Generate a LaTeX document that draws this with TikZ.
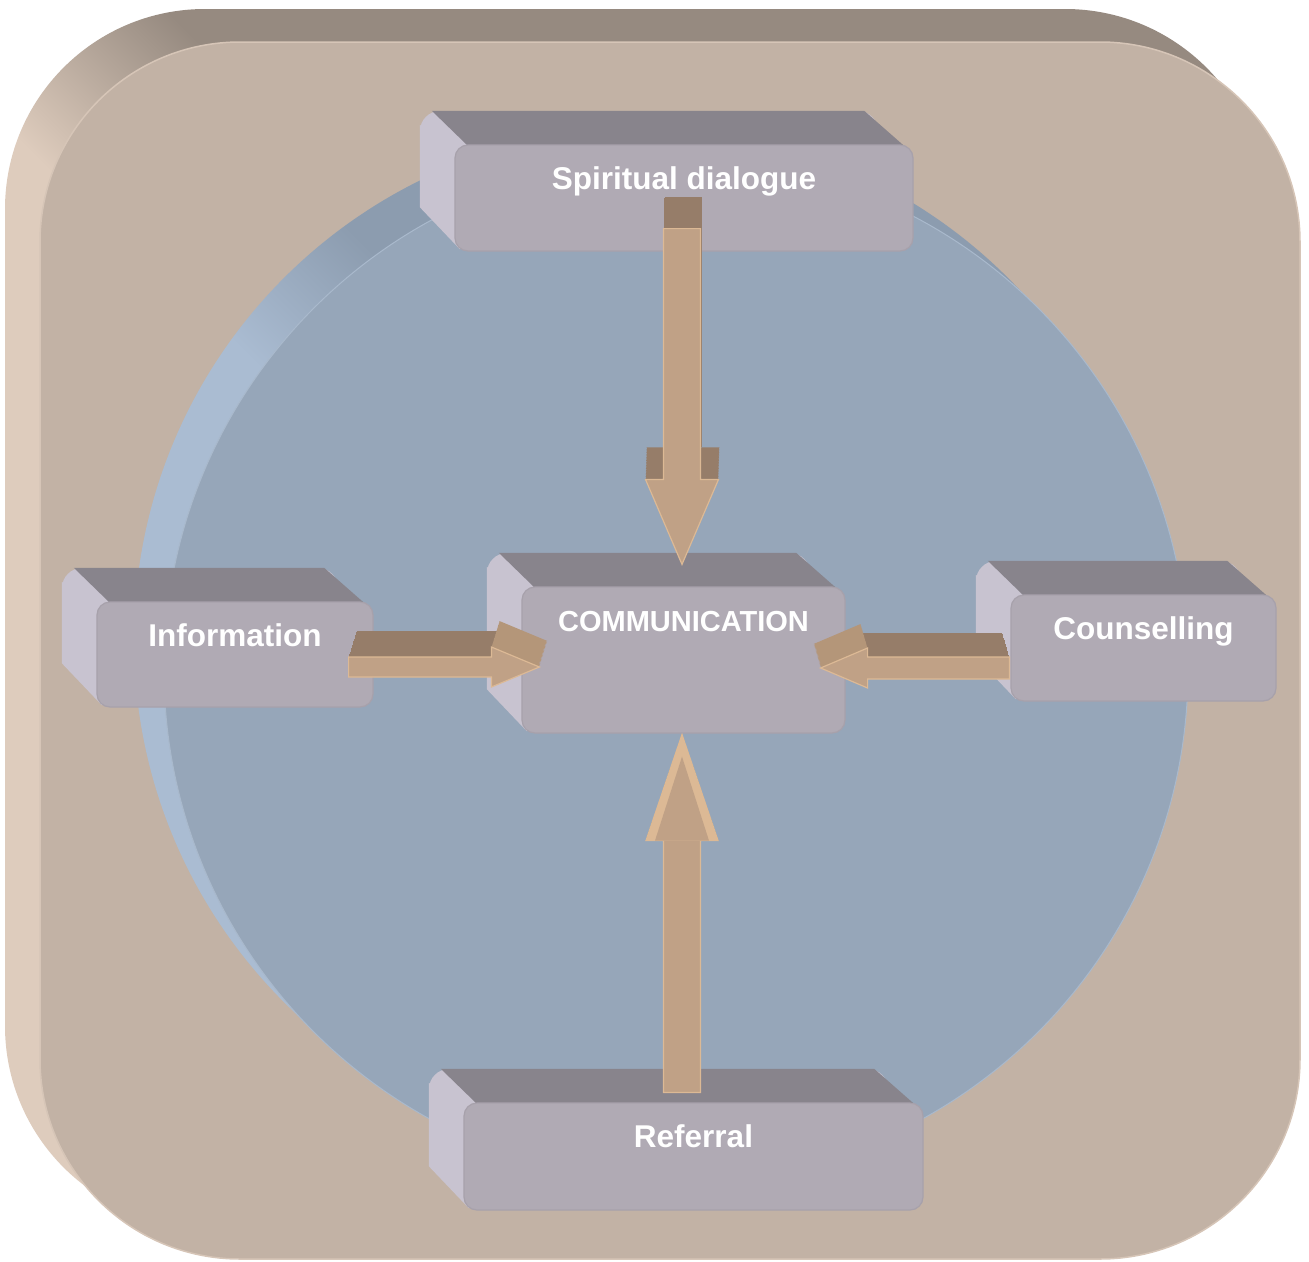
\documentclass[tikz,border=0pt]{standalone}
\usepackage{fontspec}
\setmainfont{Liberation Sans}
\usetikzlibrary{calc}

\definecolor{slabfront}{HTML}{C2B2A5}
\definecolor{slablight}{HTML}{DECCBD}
\definecolor{slabdark}{HTML}{968A80}
\definecolor{slabedge}{HTML}{D6C5B7}
\definecolor{diskfront}{HTML}{96A6B9}
\definecolor{disklight}{HTML}{AABCD2}
\definecolor{diskdark}{HTML}{8C9CAF}
\definecolor{diskedge}{HTML}{A9B9CC}
\definecolor{boxfront}{HTML}{B0AAB4}
\definecolor{boxtop}{HTML}{88848C}
\definecolor{boxside}{HTML}{C8C3D0}
\definecolor{boxedge}{HTML}{A7A1AB}
\definecolor{arrowfront}{HTML}{C0A186}
\definecolor{arrowdark}{HTML}{967D69}
\definecolor{arrowmid}{HTML}{B49679}
\definecolor{arrowlight}{HTML}{DCB995}

\pgfdeclarehorizontalshading{slabside}{100bp}{color(0bp)=(slablight); color(46bp)=(slablight); color(54bp)=(slabdark); color(100bp)=(slabdark)}
\pgfdeclarehorizontalshading{diskside}{100bp}{color(0bp)=(disklight); color(46bp)=(disklight); color(54bp)=(diskdark); color(100bp)=(diskdark)}

\tikzstyle{facebox}=[rectangle,rounded corners=13pt,fill=boxfront,draw=boxedge,line width=1.2pt,inner sep=0pt]
\tikzstyle{backbox}=[rectangle,rounded corners=20pt,fill=boxside,inner sep=0pt]
\tikzstyle{sideface}=[fill=boxside]
\tikzstyle{topface}=[fill=boxtop]
\tikzstyle{boxlabel}=[text=white,inner sep=0pt,anchor=base]
\tikzstyle{arrowface}=[fill=arrowfront,draw=arrowlight,line width=1.2pt]

\begin{document}
\begin{tikzpicture}[x=1pt,y=-1pt]
\useasboundingbox (0,0) rectangle (1309,1261);

% slab
\shade[shading=slabside,shading angle=45,rounded corners=200pt] (5,9) rectangle (1265,1226);
\filldraw[fill=slabfront,draw=slabedge,line width=1.5pt,rounded corners=200pt] (40,42) rectangle (1300,1259);

% disk
\shade[shading=diskside,shading angle=45] (646,640) circle (512pt);
\filldraw[fill=diskfront,draw=diskedge,line width=1pt] (676,670) circle (512pt);

% boxes
\def\dx{-35}
\def\dy{-34}
\foreach \pos/\name/\w/\h/\fs/\txt in {{(684,198)/sd/458/106/31.5/Spiritual dialogue}, {(683.5,660)/comm/323/146/29/COMMUNICATION}, {(235,654.5)/info/276/105/31.5/Information}, {(1143.5,648)/couns/265/106/31.5/Counselling}, {(693.5,1156.5)/ref/459/107/31.5/Referral}}
{
    \node[backbox,minimum width=\w pt,minimum height=\h pt,shift={(\dx,\dy)}] (\name-back) at \pos {};
    \fill[sideface] ($(\name-back.north west)+(0,14)$) -- ($(\name-back.south west)+(0,-10)$)
        -- ($(\name-back.south west)+(40,32)$) -- ($(\name-back.north west)+(40,40)$) -- cycle;
    \fill[topface] ($(\name-back.north west)+(12,0)$) -- ($(\name-back.north east)+(-14,0)$)
        -- ($(\name-back.north east)+(27,36)$) -- ($(\name-back.north west)+(47,34)$) -- cycle;
    \node[facebox,minimum width=\w pt,minimum height=\h pt] (\name) at \pos {};
    \node[boxlabel,font=\bfseries\fontsize{\fs}{\fs}\selectfont] (\name-txt) at ($(\name.north)+(0,45)$) {\txt};
}

% arrow ends
\coordinate (sdtail) at ($(sd.south)+(-2,-23)$);
\coordinate (sdtip) at ($(comm.north)+(-1.5,-22)$);
\coordinate (infotail) at ($(info.east)+(-25,12.5)$);
\coordinate (infotip) at ($(comm.west)+(18,7)$);
\coordinate (counstail) at ($(couns.west)+(-1,20)$);
\coordinate (counstip) at ($(comm.east)+(-25,8)$);
\coordinate (reftail) at ($(ref.north)+(-11.5,-10)$);
\coordinate (reftip) at ($(comm.south)+(-1.5,1)$);

% arrows: swept back block (head, then shaft), then the face
\foreach \src/\dst/\sw/\hw/\hl/\ex/\ey/\hc in {sdtail/sdtip/18.5/36.5/85/1/-32/arrowdark, infotail/infotip/10/20/48/8/-26/arrowmid, counstail/counstip/11/20/47/-7/-24/arrowmid, reftail/reftip/18.5/36/106/0/0/arrowfront}
{
    \coordinate (hb) at ($(\dst)!\hl pt!(\src)$);
    \foreach \t in {1,0.95,...,0.02}
    {
        \fill[\hc,transform canvas={shift={(\t*\ex,\t*\ey)}}] (\dst) -- ($(hb)!\hw pt!90:(\src)$) -- ($(hb)!\hw pt!-90:(\src)$) -- cycle;
        \fill[arrowdark,transform canvas={shift={(\t*\ex,\t*\ey)}}] ($(hb)!\sw pt!90:(\src)$) -- ($(\src)!\sw pt!-90:(\dst)$)
            -- ($(\src)!\sw pt!90:(\dst)$) -- ($(hb)!\sw pt!-90:(\src)$) -- cycle;
    }
    \filldraw[arrowface] (\dst) -- ($(hb)!\hw pt!90:(\src)$) -- ($(hb)!\sw pt!90:(\src)$)
        -- ($(\src)!\sw pt!-90:(\dst)$) -- ($(\src)!\sw pt!90:(\dst)$)
        -- ($(hb)!\sw pt!-90:(\src)$) -- ($(hb)!\hw pt!-90:(\src)$) -- cycle;
}

% bevel on the Referral arrow head
\coordinate (rb) at ($(reftip)!106pt!(reftail)$);
\fill[arrowlight] (reftip) -- ($(rb)!36pt!90:(reftail)$) -- ($(rb)!36pt!-90:(reftail)$) -- cycle;
\fill[arrowfront] ($(reftip)!22pt!(reftail)$) -- ($(rb)!27pt!90:(reftail)$) -- ($(rb)!27pt!-90:(reftail)$) -- cycle;

\end{tikzpicture}
\end{document}
